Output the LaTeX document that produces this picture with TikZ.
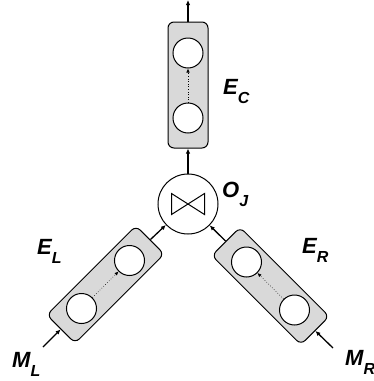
\documentclass[tikz,border=0pt]{standalone}
\usepackage{fontspec}
\setmainfont{Liberation Sans}
\usetikzlibrary{arrows.meta}
\definecolor{boxgray}{RGB}{217,217,217}
\tikzset{
  ebox/.style={draw, line width=1pt, fill=boxgray, rounded corners=6pt, minimum width=40pt, minimum height=126pt, inner sep=0pt},
  slot/.style={draw, line width=1pt, fill=white, circle, minimum size=30pt, inner sep=0pt},
  flow/.style={line width=1.3pt, -{Latex[length=5pt,width=4.5pt]}},
  inner/.style={line width=0.6pt, dotted, -{Latex[length=4pt,width=3.5pt]}},
  lab/.style={anchor=base west, inner sep=0pt, font=\fontsize{22}{22}\selectfont\bfseries\itshape}
}
\newcommand{\sbs}[1]{\raisebox{-9pt}{\fontsize{16}{16}\selectfont #1}}
\begin{document}
\begin{tikzpicture}[x=1pt,y=-1pt]
\useasboundingbox (0,0) rectangle (374,381);
% join operator
\node[draw, circle, line width=1pt, minimum size=60pt, inner sep=0pt] (oj) at (188,204) {};
\draw[line width=1pt] ([shift={(-16.5pt,10.5pt)}]oj.center) -- ([shift={(16.5pt,-10.5pt)}]oj.center) -- ([shift={(16.5pt,10.5pt)}]oj.center) -- ([shift={(-16.5pt,-10.5pt)}]oj.center) -- cycle;
% boxes
\node[ebox] (ec) at (188,85) {};
\node[ebox, rotate=-45] (el) at (105.5,284.5) {};
\node[ebox, rotate=45] (er) at (270.5,286) {};
% slots
\node[slot] (ec1) at (188,118) {};
\node[slot] (ec2) at (188,53) {};
\node[slot] (el1) at (81.5,308.5) {};
\node[slot] (el2) at (129.5,260.5) {};
\node[slot] (er1) at (294.5,310) {};
\node[slot] (er2) at (246.5,262) {};
\draw[inner] (ec1) -- (ec2);
\draw[inner] (el1) -- (el2);
\draw[inner] (er1) -- (er2);
% flows
\coordinate (out) at (188,0);
\coordinate (ml) at (43,347);
\coordinate (mr) at (333,348);
\draw[flow] (ec.north) -- (out);
\draw[flow] (oj) -- (ec.south);
\draw[flow] (el.north) -- (oj);
\draw[flow] (er.north) -- (oj);
\draw[flow] (ml) -- (el.south);
\draw[flow] (mr) -- (er.south);
% labels
\node[lab] (lec) at (223,94) {E\sbs{C}};
\node[lab] (loj) at (222,197) {O\sbs{J}};
\node[lab] (lel) at (37,254) {E\sbs{L}};
\node[lab] (ler) at (302,253) {E\sbs{R}};
\node[lab] (lml) at (12,367) {M\sbs{L}};
\node[lab] (lmr) at (345,365) {M\sbs{R}};
\end{tikzpicture}
\end{document}
